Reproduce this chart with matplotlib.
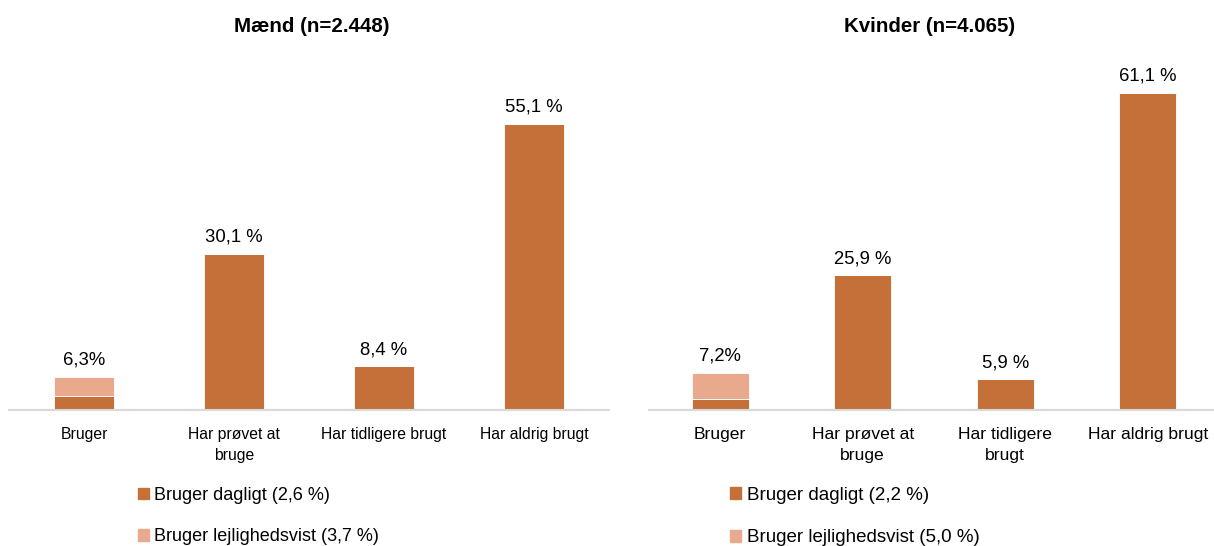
import matplotlib.pyplot as plt
from matplotlib.patches import Patch

# ============================================================
# Data
# ============================================================

kategorier = ["Bruger", "Har prøvet at\nbruge", "Har tidligere brugt", "Har aldrig brugt"]
kategorier_k = ["Bruger", "Har prøvet at\nbruge", "Har tidligere\nbrugt", "Har aldrig brugt"]

maend_dagligt = [2.6, 30.1, 8.4, 55.1]
maend_lejlighed = [3.7, 0, 0, 0]
maend_labels = ["6,3%", "30,1 %", "8,4 %", "55,1 %"]

kvinder_dagligt = [2.2, 25.9, 5.9, 61.1]
kvinder_lejlighed = [5.0, 0, 0, 0]
kvinder_labels = ["7,2%", "25,9 %", "5,9 %", "61,1 %"]

titler = ["Mænd (n=2.448)", "Kvinder (n=4.065)"]
legend_m = ["Bruger dagligt (2,6 %)", "Bruger lejlighedsvist (3,7 %)"]
legend_k = ["Bruger dagligt (2,2 %)", "Bruger lejlighedsvist (5,0 %)"]

MORK = "#C47038"
LYS = "#E9A98D"

plt.rcParams["font.family"] = ["Liberation Sans", "DejaVu Sans"]

W, H = 1214, 546
fig = plt.figure(figsize=(W / 100, H / 100), dpi=100)


def px_axes(x0, x1, y_top, y_bot):
    return fig.add_axes([x0 / W, 1 - y_bot / H, (x1 - x0) / W, (y_bot - y_top) / H])


# (akse, kategorier, dagligt, lejlighedsvist, labels, titel, titel-x, legend, legend-x, tick-str, legend-str)
panels = [
    (px_axes(9, 609, 62, 410), kategorier, maend_dagligt, maend_lejlighed, maend_labels,
     titler[0], 312, legend_m, 138, 11.3, 13),
    (px_axes(649, 1219, 62, 410), kategorier_k, kvinder_dagligt, kvinder_lejlighed, kvinder_labels,
     titler[1], 930, legend_k, 730, 12.6, 13.5),
]

for ax, cats, dagligt, lejlighed, labels, titel, tx, leg, lx, tfs, lfs in panels:
    x = range(len(cats))
    ax.bar(x, dagligt, width=0.4, color=MORK, edgecolor="white", linewidth=0.6)
    ax.bar(x, lejlighed, width=0.4, bottom=dagligt, color=LYS, edgecolor="white", linewidth=0.6)

    for i in x:
        total = dagligt[i] + lejlighed[i]
        ax.annotate(labels[i], (i, total), xytext=(0, 6), textcoords="offset points",
                    ha="center", va="bottom", fontsize=13.3)

    ax.set_xlim(-0.5, 3.5)
    ax.set_ylim(0, 67)
    ax.set_xticks(list(x))
    ax.set_xticklabels(cats, fontsize=tfs, linespacing=1.5)
    ax.tick_params(axis="x", length=0, pad=12)
    ax.set_yticks([])
    for s in ["top", "left", "right"]:
        ax.spines[s].set_visible(False)
    ax.spines["bottom"].set_color("#D9D9D9")
    ax.spines["bottom"].set_linewidth(1.5)

    fig.text(tx / W, 1 - 27 / H, titel, ha="center", va="center", fontsize=14.8, fontweight="bold")

    handles = [Patch(color=MORK), Patch(color=LYS)]
    fig.legend(handles, leg, loc="upper left", bbox_to_anchor=(lx / W, 1 - 487 / H),
               frameon=False, fontsize=lfs, handlelength=0.6, handleheight=0.6,
               handletextpad=0.3, labelspacing=1.35, borderpad=0, borderaxespad=0)

plt.savefig("out.png", dpi=100)
